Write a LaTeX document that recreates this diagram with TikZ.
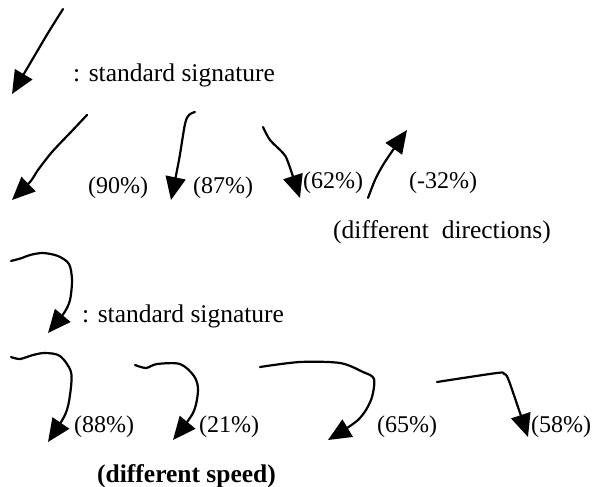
\documentclass[tikz,border=0pt]{standalone}
\usepackage{fontspec}
\setmainfont{Liberation Serif}
\usetikzlibrary{arrows.meta}

\begin{document}
\begin{tikzpicture}[x=1pt, y=-1pt,
sig/.style={-{Triangle[length=23pt, width=20pt]}, line width=2.2pt, line join=round, line cap=round},
lbl/.style={anchor=base west, inner sep=0pt, font=\fontsize{25.5}{30}\selectfont},
pct/.style={lbl, font=\fontsize{24}{30}\selectfont}
]
\useasboundingbox (0,0) rectangle (595,487);

% direction
\draw[sig] plot[smooth] coordinates {(63,9) (48,33) (35,55) (25,72) (12,94)};
\node[lbl] (stdDir) at (73,82) {: standard signature};

\draw[sig] plot[smooth] coordinates {(87,115) (70,133) (52,152) (38,170) (30,182) (12,200)};
\node[pct] (dirA) at (88,193) {(90\%)};

\draw[sig] plot[smooth] coordinates {(195,112) (189,115) (185,124) (179,160) (171,200)};
\node[pct] (dirB) at (193,193) {(87\%)};

\draw[sig] plot[smooth] coordinates {(263,127) (270,140) (283,153) (288,162) (300,198)};
\node[pct] (dirC) at (303,188) {(62\%)};

\draw[sig] plot[smooth] coordinates {(368,198) (375,180) (383,165) (393,150) (407,130)};
\node[pct] (dirD) at (409,188) {(-32\%)};

\node[lbl] (dirText) at (333,238) {(different\ \ directions)};

% speed
\draw[sig] plot[smooth] coordinates {(11,261) (22,258) (30,255) (43,253) (58,256) (69,264) (72,280) (70,300) (64,313) (48,333)};
\node[lbl] (stdSpd) at (82,322) {: standard signature};

\draw[sig] plot[smooth] coordinates {(11,357) (20,359) (33,355) (45,353) (60,356) (71,372) (70,395) (65,415) (48,442)};
\node[pct] (spdA) at (74,432) {(88\%)};

\draw[sig] plot[smooth] coordinates {(135,365) (146,368) (157,364) (180,364) (194,376) (198,390) (193,413) (173,440)};
\node[pct] (spdB) at (199,432) {(21\%)};

\draw[sig] plot[smooth] coordinates {(260,367) (300,362) (340,363) (363,372) (374,379) (371,400) (358,420) (328,440)};
\node[pct] (spdC) at (377,432) {(65\%)};

\draw[sig] plot[smooth] coordinates {(437,382) (497,373) (504,374) (509,381) (528,437)};
\node[pct] (spdD) at (531,432) {(58\%)};

\node[lbl, font=\fontsize{25.5}{30}\selectfont\bfseries] (spdText) at (97,482) {(different speed)};
\end{tikzpicture}
\end{document}
